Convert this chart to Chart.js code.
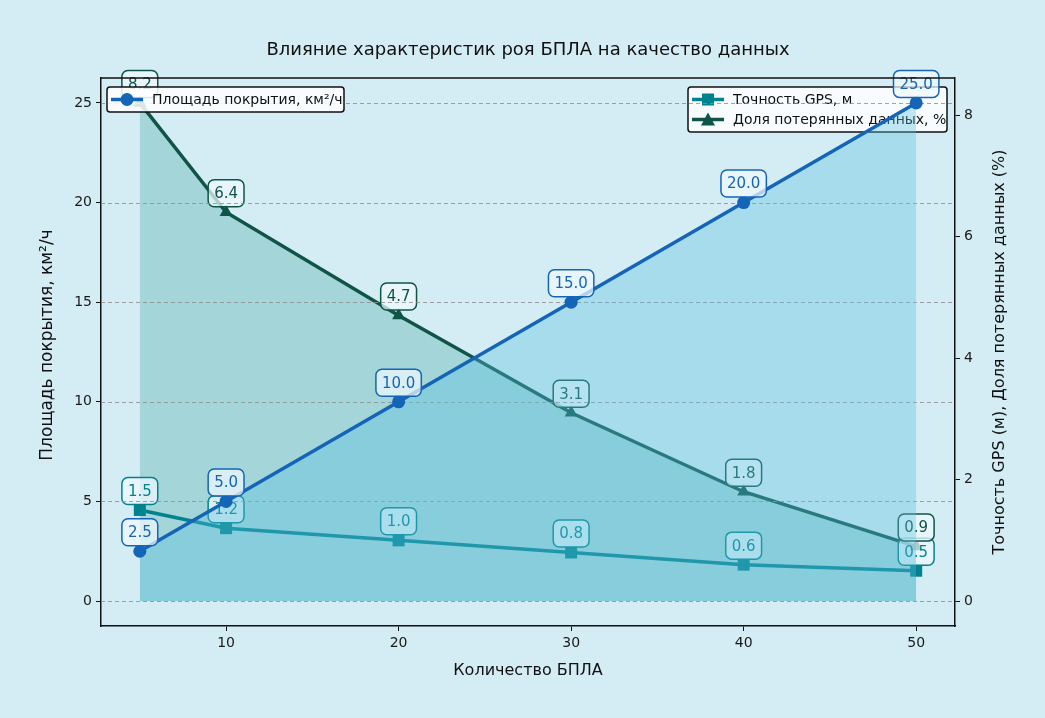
<!DOCTYPE html>
<html>
<head>
  <meta charset="utf-8">
  <title>Влияние характеристик роя БПЛА</title>
  <script src="https://cdn.jsdelivr.net/npm/chart.js"></script>
  <style>
    html, body { margin: 0; padding: 0; background: #d4ecf3; }
    .wrap { width: 1045px; height: 718px; }
  </style>
</head>
<body>
<div class="wrap">
  <canvas id="chart" width="1045" height="718"></canvas>
</div>

<script>
  // data
  const droneCounts = [5, 10, 20, 30, 40, 50];
  const coverage = [2.5, 5.0, 10.0, 15.0, 20.0, 25.0];
  const gpsAccuracy = [1.5, 1.2, 1.0, 0.8, 0.6, 0.5];
  const lostData = [8.2, 6.4, 4.7, 3.1, 1.8, 0.9];

  const xTicks = [10, 20, 30, 40, 50];
  const leftTicks = [0, 5, 10, 15, 20, 25];
  const rightTicks = [0, 2, 4, 6, 8];

  const titleText = 'Влияние характеристик роя БПЛА на качество данных';
  const xTitle = 'Количество БПЛА';
  const leftTitle = 'Площадь покрытия, км²/ч';
  const rightTitle = 'Точность GPS (м), Доля потерянных данных (%)';
  const seriesNames = ['Площадь покрытия, км²/ч', 'Точность GPS, м', 'Доля потерянных данных, %'];

  const BLUE = '#1464b8';
  const TEAL = '#00838f';
  const DARK = '#0f5447';
  const FONT = '"DejaVu Sans", sans-serif';

  const pts = vals => droneCounts.map((x, i) => ({ x: x, y: vals[i] }));

  // rounded label box
  function labelBox(ctx, text, x, y, color) {
    ctx.font = '15px ' + FONT;
    const w = ctx.measureText(text).width + 12;
    const h = 27;
    ctx.beginPath();
    ctx.roundRect(x - w / 2, y - h / 2, w, h, 6);
    ctx.fillStyle = 'rgba(240,250,253,0.72)';
    ctx.fill();
    ctx.lineWidth = 1.5;
    ctx.strokeStyle = color;
    ctx.stroke();
    ctx.fillStyle = color;
    ctx.textAlign = 'center';
    ctx.textBaseline = 'middle';
    ctx.fillText(text, x, y + 1);
  }

  function drawMarker(ctx, style, x, y, color) {
    ctx.fillStyle = color;
    ctx.beginPath();
    if (style === 'circle') {
      ctx.arc(x, y, 6.5, 0, Math.PI * 2);
    } else if (style === 'rect') {
      ctx.rect(x - 6, y - 6, 12, 12);
    } else {
      ctx.moveTo(x, y - 7);
      ctx.lineTo(x + 7, y + 6);
      ctx.lineTo(x - 7, y + 6);
      ctx.closePath();
    }
    ctx.fill();
  }

  function legendBox(ctx, x, y, w, rows) {
    const h = 25 + (rows.length - 1) * 20;
    ctx.beginPath();
    ctx.roundRect(x, y, w, h, 3);
    ctx.fillStyle = 'rgba(255,255,255,0.85)';
    ctx.fill();
    ctx.lineWidth = 1.5;
    ctx.strokeStyle = '#111';
    ctx.stroke();
    rows.forEach((r, i) => {
      const cy = y + 12.5 + i * 20;
      ctx.strokeStyle = r.color;
      ctx.lineWidth = 3.5;
      ctx.beginPath();
      ctx.moveTo(x + 4, cy);
      ctx.lineTo(x + 36, cy);
      ctx.stroke();
      drawMarker(ctx, r.style, x + 20, cy, r.color);
      ctx.fillStyle = '#111';
      ctx.font = '14px ' + FONT;
      ctx.textAlign = 'left';
      ctx.textBaseline = 'middle';
      ctx.fillText(r.text, x + 45, cy + 1);
    });
  }

  const decorPlugin = {
    id: 'decor',
    beforeDraw(chart) {
      const ctx = chart.ctx;
      ctx.save();
      ctx.fillStyle = '#d4ecf3';
      ctx.fillRect(0, 0, chart.width, chart.height);
      ctx.restore();
    },
    afterDatasetDraw(chart, args) {
      // second axis content (gps + lost) sits under the coverage layer
      if (args.index !== 1) return;
      const ctx = chart.ctx;
      const xs = chart.scales.x, y2 = chart.scales.y2, y = chart.scales.y;
      const area = chart.chartArea;
      ctx.save();
      droneCounts.forEach((c, i) => {
        labelBox(ctx, gpsAccuracy[i].toFixed(1), xs.getPixelForValue(c), y2.getPixelForValue(gpsAccuracy[i]) - 19, TEAL);
      });
      droneCounts.forEach((c, i) => {
        labelBox(ctx, lostData[i].toFixed(1), xs.getPixelForValue(c), y2.getPixelForValue(lostData[i]) - 19, DARK);
      });
      legendBox(ctx, 688, 87, 259, [
        { text: seriesNames[1], color: TEAL, style: 'rect' },
        { text: seriesNames[2], color: DARK, style: 'triangle' }
      ]);
      // dashed grid of the left axis
      ctx.strokeStyle = 'rgba(140,140,140,0.8)';
      ctx.lineWidth = 1;
      ctx.setLineDash([4, 3]);
      leftTicks.forEach(v => {
        const py = Math.round(y.getPixelForValue(v)) + 0.5;
        ctx.beginPath();
        ctx.moveTo(area.left, py);
        ctx.lineTo(area.right, py);
        ctx.stroke();
      });
      ctx.restore();
    },
    afterDatasetsDraw(chart) {
      const ctx = chart.ctx;
      const xs = chart.scales.x, y = chart.scales.y;
      ctx.save();
      droneCounts.forEach((c, i) => {
        labelBox(ctx, coverage[i].toFixed(1), xs.getPixelForValue(c), y.getPixelForValue(coverage[i]) - 19, BLUE);
      });
      legendBox(ctx, 107, 87, 237, [
        { text: seriesNames[0], color: BLUE, style: 'circle' }
      ]);
      ctx.restore();
    },
    afterDraw(chart) {
      const ctx = chart.ctx;
      const area = chart.chartArea;
      ctx.save();
      // top frame line
      ctx.strokeStyle = '#111';
      ctx.lineWidth = 1.5;
      ctx.beginPath();
      ctx.moveTo(area.left, area.top);
      ctx.lineTo(area.right, area.top);
      ctx.stroke();

      ctx.fillStyle = '#111';
      ctx.textAlign = 'center';
      ctx.textBaseline = 'middle';
      ctx.font = '18px ' + FONT;
      ctx.fillText(titleText, 528, 50);
      ctx.font = '16px ' + FONT;
      ctx.fillText(xTitle, 528, 671);

      ctx.font = '17px ' + FONT;
      ctx.translate(48, 345);
      ctx.rotate(-Math.PI / 2);
      ctx.fillText(leftTitle, 0, 0);
      ctx.setTransform(1, 0, 0, 1, 0, 0);
      ctx.font = '16px ' + FONT;
      ctx.translate(1000, 352);
      ctx.rotate(-Math.PI / 2);
      ctx.fillText(rightTitle, 0, 0);
      ctx.restore();
    }
  };

  const axisCommon = {
    border: { display: true, color: '#111', width: 1.5 },
    grid: { display: true, drawOnChartArea: false, drawTicks: true, tickLength: 5, color: '#111', tickWidth: 1 },
    ticks: { color: '#1a1a1a', font: { family: 'DejaVu Sans', size: 14 }, padding: 4, maxRotation: 0 }
  };

  new Chart(document.getElementById('chart'), {
    type: 'line',
    data: {
      datasets: [
        {
          label: seriesNames[0],
          data: pts(coverage),
          yAxisID: 'y',
          borderColor: BLUE,
          backgroundColor: 'rgba(90,190,225,0.36)',
          borderWidth: 3.5,
          pointStyle: 'circle',
          pointRadius: 6.5,
          pointBackgroundColor: BLUE,
          pointBorderWidth: 0,
          fill: 'origin'
        },
        {
          label: seriesNames[1],
          data: pts(gpsAccuracy),
          yAxisID: 'y2',
          borderColor: TEAL,
          backgroundColor: TEAL,
          borderWidth: 3.5,
          pointStyle: 'rect',
          pointRadius: 8.5,
          pointBackgroundColor: TEAL,
          pointBorderWidth: 0,
          fill: false
        },
        {
          label: seriesNames[2],
          data: pts(lostData),
          yAxisID: 'y2',
          borderColor: DARK,
          backgroundColor: 'rgba(0,140,135,0.23)',
          borderWidth: 3.5,
          pointStyle: 'triangle',
          pointRadius: 7.5,
          pointBackgroundColor: DARK,
          pointBorderWidth: 0,
          fill: 'origin'
        }
      ]
    },
    options: {
      responsive: false,
      animation: false,
      devicePixelRatio: 1,
      layout: { padding: { top: 78, left: 0, right: 0, bottom: 0 } },
      plugins: { legend: { display: false }, tooltip: { enabled: false } },
      elements: { line: { tension: 0 } },
      scales: {
        x: Object.assign({}, axisCommon, {
          type: 'linear', min: 2.75, max: 52.25,
          afterBuildTicks: s => { s.ticks = xTicks.map(v => ({ value: v })); },
          afterFit: s => { s.height = 92; }
        }),
        y: Object.assign({}, axisCommon, {
          type: 'linear', position: 'left', min: -1.25, max: 26.25,
          afterBuildTicks: s => { s.ticks = leftTicks.map(v => ({ value: v })); },
          afterFit: s => { s.width = 101; }
        }),
        y2: Object.assign({}, axisCommon, {
          type: 'linear', position: 'right', min: -0.41, max: 8.61,
          afterBuildTicks: s => { s.ticks = rightTicks.map(v => ({ value: v })); },
          afterFit: s => { s.width = 90; }
        })
      }
    },
    plugins: [decorPlugin]
  });
</script>
</body>
</html>
